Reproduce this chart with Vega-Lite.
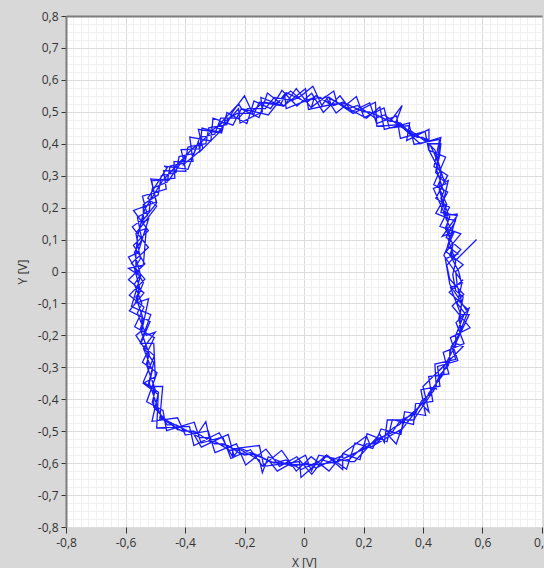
{
  "$schema": "https://vega.github.io/schema/vega-lite/v6.json",
  "width": 476,
  "height": 511,
  "autosize": {"type": "none"},
  "padding": {"left": 66, "top": 16, "right": 2, "bottom": 41},
  "background": "#d8d8d8",
  "config": {"view": {"fill": "white", "stroke": null}, "font": "Open Sans"},
  "data": {"values": [
    {"t":0,"x":0.58,"y":0.10},{"t":1,"x":0.51,"y":0.035},
    {"t":2,"x":0.49,"y":0.05},{"t":3,"x":0.50,"y":0.08},{"t":4,"x":0.48,"y":0.14},{"t":5,"x":0.485,"y":0.16},{"t":6,"x":0.46,"y":0.23},{"t":7,"x":0.47,"y":0.25},{"t":8,"x":0.445,"y":0.32},{"t":9,"x":0.455,"y":0.36},{"t":10,"x":0.46,"y":0.40},{"t":11,"x":0.42,"y":0.40},{"t":12,"x":0.36,"y":0.44},{"t":13,"x":0.33,"y":0.45},{"t":14,"x":0.27,"y":0.49},{"t":15,"x":0.24,"y":0.48},{"t":16,"x":0.18,"y":0.52},{"t":17,"x":0.15,"y":0.51},{"t":18,"x":0.08,"y":0.545},{"t":19,"x":0.06,"y":0.52},{"t":20,"x":0.03,"y":0.58},{"t":21,"x":-0.01,"y":0.55},{"t":22,"x":-0.04,"y":0.535},{"t":23,"x":-0.10,"y":0.545},{"t":24,"x":-0.13,"y":0.51},{"t":25,"x":-0.19,"y":0.51},{"t":26,"x":-0.22,"y":0.48},{"t":27,"x":-0.28,"y":0.48},{"t":28,"x":-0.30,"y":0.43},{"t":29,"x":-0.35,"y":0.42},{"t":30,"x":-0.37,"y":0.37},{"t":31,"x":-0.42,"y":0.36},{"t":32,"x":-0.43,"y":0.31},{"t":33,"x":-0.48,"y":0.30},{"t":34,"x":-0.49,"y":0.24},{"t":35,"x":-0.54,"y":0.21},{"t":36,"x":-0.54,"y":0.15},{"t":37,"x":-0.565,"y":0.12},{"t":38,"x":-0.55,"y":0.04},{"t":39,"x":-0.57,"y":0.01},{"t":40,"x":-0.55,"y":-0.06},{"t":41,"x":-0.565,"y":-0.08},{"t":42,"x":-0.54,"y":-0.15},{"t":43,"x":-0.55,"y":-0.18},{"t":44,"x":-0.52,"y":-0.26},{"t":45,"x":-0.53,"y":-0.29},{"t":46,"x":-0.50,"y":-0.37},{"t":47,"x":-0.51,"y":-0.41},{"t":48,"x":-0.46,"y":-0.48},{"t":49,"x":-0.43,"y":-0.48},{"t":50,"x":-0.35,"y":-0.52},{"t":51,"x":-0.32,"y":-0.52},{"t":52,"x":-0.25,"y":-0.56},{"t":53,"x":-0.22,"y":-0.555},{"t":54,"x":-0.15,"y":-0.59},{"t":55,"x":-0.14,"y":-0.63},{"t":56,"x":-0.12,"y":-0.58},{"t":57,"x":-0.04,"y":-0.61},{"t":58,"x":0.01,"y":-0.60},{"t":59,"x":0.04,"y":-0.615},{"t":60,"x":0.12,"y":-0.58},{"t":61,"x":0.15,"y":-0.59},{"t":62,"x":0.21,"y":-0.54},{"t":63,"x":0.24,"y":-0.54},{"t":64,"x":0.30,"y":-0.49},{"t":65,"x":0.32,"y":-0.48},{"t":66,"x":0.38,"y":-0.43},{"t":67,"x":0.39,"y":-0.42},{"t":68,"x":0.44,"y":-0.36},{"t":69,"x":0.45,"y":-0.34},{"t":70,"x":0.49,"y":-0.28},{"t":71,"x":0.49,"y":-0.25},{"t":72,"x":0.53,"y":-0.18},{"t":73,"x":0.52,"y":-0.15},{"t":74,"x":0.535,"y":-0.08},{"t":75,"x":0.51,"y":-0.06},
    {"t":76,"x":0.50,"y":-0.01},{"t":77,"x":0.51,"y":0.03},{"t":78,"x":0.485,"y":0.10},{"t":79,"x":0.50,"y":0.12},{"t":80,"x":0.47,"y":0.18},{"t":81,"x":0.48,"y":0.21},{"t":82,"x":0.45,"y":0.27},{"t":83,"x":0.465,"y":0.30},{"t":84,"x":0.44,"y":0.38},{"t":85,"x":0.40,"y":0.42},{"t":86,"x":0.38,"y":0.42},{"t":87,"x":0.31,"y":0.47},{"t":88,"x":0.33,"y":0.52},{"t":89,"x":0.29,"y":0.47},{"t":90,"x":0.22,"y":0.50},{"t":91,"x":0.20,"y":0.50},{"t":92,"x":0.13,"y":0.53},{"t":93,"x":0.10,"y":0.52},{"t":94,"x":0.04,"y":0.55},{"t":95,"x":0.01,"y":0.53},{"t":96,"x":-0.06,"y":0.56},{"t":97,"x":-0.08,"y":0.52},{"t":98,"x":-0.15,"y":0.53},{"t":99,"x":-0.17,"y":0.49},{"t":100,"x":-0.20,"y":0.55},{"t":101,"x":-0.24,"y":0.50},{"t":102,"x":-0.26,"y":0.46},{"t":103,"x":-0.32,"y":0.45},{"t":104,"x":-0.33,"y":0.40},{"t":105,"x":-0.39,"y":0.39},{"t":106,"x":-0.40,"y":0.34},{"t":107,"x":-0.45,"y":0.33},{"t":108,"x":-0.46,"y":0.28},{"t":109,"x":-0.51,"y":0.26},{"t":110,"x":-0.52,"y":0.19},{"t":111,"x":-0.56,"y":0.17},{"t":112,"x":-0.545,"y":0.10},{"t":113,"x":-0.57,"y":0.06},{"t":114,"x":-0.55,"y":-0.01},{"t":115,"x":-0.57,"y":-0.04},{"t":116,"x":-0.545,"y":-0.10},{"t":117,"x":-0.56,"y":-0.13},{"t":118,"x":-0.53,"y":-0.20},{"t":119,"x":-0.50,"y":-0.19},{"t":120,"x":-0.54,"y":-0.24},{"t":121,"x":-0.51,"y":-0.31},{"t":122,"x":-0.52,"y":-0.35},{"t":123,"x":-0.49,"y":-0.43},{"t":124,"x":-0.48,"y":-0.46},{"t":125,"x":-0.41,"y":-0.50},{"t":126,"x":-0.37,"y":-0.50},{"t":127,"x":-0.30,"y":-0.54},{"t":128,"x":-0.27,"y":-0.54},{"t":129,"x":-0.20,"y":-0.575},{"t":130,"x":-0.17,"y":-0.57},{"t":131,"x":-0.10,"y":-0.60},{"t":132,"x":-0.06,"y":-0.59},{"t":133,"x":-0.01,"y":-0.62},{"t":134,"x":0.06,"y":-0.59},{"t":135,"x":0.10,"y":-0.60},{"t":136,"x":0.17,"y":-0.57},{"t":137,"x":0.19,"y":-0.56},{"t":138,"x":0.26,"y":-0.52},{"t":139,"x":0.28,"y":-0.51},{"t":140,"x":0.31,"y":-0.54},{"t":141,"x":0.34,"y":-0.46},{"t":142,"x":0.36,"y":-0.45},{"t":143,"x":0.41,"y":-0.40},{"t":144,"x":0.42,"y":-0.38},{"t":145,"x":0.47,"y":-0.32},{"t":146,"x":0.47,"y":-0.30},{"t":147,"x":0.51,"y":-0.23},{"t":148,"x":0.51,"y":-0.20},{"t":149,"x":0.54,"y":-0.13},{"t":150,"x":0.515,"y":-0.10},{"t":151,"x":0.53,"y":-0.04},
    {"t":152,"x":0.52,"y":0.00},{"t":153,"x":0.495,"y":0.045},{"t":154,"x":0.50,"y":0.085},{"t":155,"x":0.475,"y":0.135},{"t":156,"x":0.49,"y":0.17},{"t":157,"x":0.465,"y":0.225},{"t":158,"x":0.455,"y":0.255},{"t":159,"x":0.46,"y":0.315},{"t":160,"x":0.44,"y":0.365},{"t":161,"x":0.415,"y":0.415},{"t":162,"x":0.365,"y":0.425},{"t":163,"x":0.325,"y":0.465},{"t":164,"x":0.275,"y":0.475},{"t":165,"x":0.235,"y":0.495},{"t":166,"x":0.185,"y":0.505},{"t":167,"x":0.145,"y":0.525},{"t":168,"x":0.085,"y":0.525},{"t":169,"x":0.055,"y":0.545},{"t":170,"x":-0.005,"y":0.535},{"t":171,"x":-0.045,"y":0.565},{"t":172,"x":-0.095,"y":0.525},{"t":173,"x":-0.135,"y":0.53},{"t":174,"x":-0.185,"y":0.495},{"t":175,"x":-0.225,"y":0.495},{"t":176,"x":-0.275,"y":0.465},{"t":177,"x":-0.305,"y":0.445},{"t":178,"x":-0.345,"y":0.405},{"t":179,"x":-0.375,"y":0.385},{"t":180,"x":-0.415,"y":0.345},{"t":181,"x":-0.435,"y":0.325},{"t":182,"x":-0.475,"y":0.285},{"t":183,"x":-0.495,"y":0.255},{"t":184,"x":-0.535,"y":0.195},{"t":185,"x":-0.545,"y":0.165},{"t":186,"x":-0.56,"y":0.105},{"t":187,"x":-0.565,"y":0.055},{"t":188,"x":-0.565,"y":-0.005},{"t":189,"x":-0.555,"y":-0.045},{"t":190,"x":-0.56,"y":-0.095},{"t":191,"x":-0.545,"y":-0.135},{"t":192,"x":-0.545,"y":-0.195},{"t":193,"x":-0.525,"y":-0.245},{"t":194,"x":-0.525,"y":-0.305},{"t":195,"x":-0.505,"y":-0.355},{"t":196,"x":-0.505,"y":-0.425},{"t":197,"x":-0.465,"y":-0.465},{"t":198,"x":-0.425,"y":-0.495},{"t":199,"x":-0.355,"y":-0.505},{"t":200,"x":-0.33,"y":-0.47},{"t":201,"x":-0.315,"y":-0.535},{"t":202,"x":-0.255,"y":-0.545},{"t":203,"x":-0.215,"y":-0.57},{"t":204,"x":-0.155,"y":-0.575},{"t":205,"x":-0.115,"y":-0.595},{"t":206,"x":-0.045,"y":-0.605},{"t":207,"x":0.005,"y":-0.605},{"t":208,"x":0.045,"y":-0.605},{"t":209,"x":0.115,"y":-0.595},{"t":210,"x":0.155,"y":-0.575},{"t":211,"x":0.205,"y":-0.555},{"t":212,"x":0.245,"y":-0.525},{"t":213,"x":0.295,"y":-0.505},{"t":214,"x":0.325,"y":-0.465},{"t":215,"x":0.375,"y":-0.445},{"t":216,"x":0.395,"y":-0.405},{"t":217,"x":0.435,"y":-0.375},{"t":218,"x":0.455,"y":-0.325},{"t":219,"x":0.485,"y":-0.295},{"t":220,"x":0.495,"y":-0.235},{"t":221,"x":0.525,"y":-0.195},{"t":222,"x":0.525,"y":-0.135},{"t":223,"x":0.53,"y":-0.095},{"t":224,"x":0.515,"y":-0.045},{"t":225,"x":0.51,"y":0.0},
    {"t":226,"x":0.535,"y":0.021},{"t":227,"x":0.478,"y":0.062},{"t":228,"x":0.527,"y":0.118},{"t":229,"x":0.457,"y":0.141},{"t":230,"x":0.489,"y":0.201},{"t":231,"x":0.443,"y":0.229},{"t":232,"x":0.483,"y":0.301},{"t":233,"x":0.437,"y":0.328},{"t":234,"x":0.456,"y":0.414},{"t":235,"x":0.37,"y":0.398},{"t":236,"x":0.354,"y":0.457},{"t":237,"x":0.287,"y":0.449},{"t":238,"x":0.269,"y":0.512},{"t":239,"x":0.202,"y":0.482},{"t":240,"x":0.176,"y":0.548},{"t":241,"x":0.108,"y":0.496},{"t":242,"x":0.072,"y":0.548},{"t":243,"x":0.024,"y":0.513},{"t":244,"x":-0.026,"y":0.573},{"t":245,"x":-0.067,"y":0.518},{"t":246,"x":-0.123,"y":0.559},{"t":247,"x":-0.151,"y":0.482},{"t":248,"x":-0.211,"y":0.509},{"t":249,"x":-0.239,"y":0.458},{"t":250,"x":-0.306,"y":0.48},{"t":251,"x":-0.313,"y":0.409},{"t":252,"x":-0.384,"y":0.421},{"t":253,"x":-0.373,"y":0.345},{"t":254,"x":-0.437,"y":0.344},{"t":255,"x":-0.434,"y":0.292},{"t":256,"x":-0.512,"y":0.284},{"t":257,"x":-0.497,"y":0.217},{"t":258,"x":-0.573,"y":0.191},{"t":259,"x":-0.523,"y":0.128},{"t":260,"x":-0.573,"y":0.082},{"t":261,"x":-0.535,"y":0.024},{"t":262,"x":-0.59,"y":-0.026},{"t":263,"x":-0.538,"y":-0.067},{"t":264,"x":-0.587,"y":-0.123},{"t":265,"x":-0.517,"y":-0.156},{"t":266,"x":-0.549,"y":-0.226},{"t":267,"x":-0.503,"y":-0.264},{"t":268,"x":-0.54,"y":-0.346},{"t":269,"x":-0.489,"y":-0.378},{"t":270,"x":-0.511,"y":-0.469},{"t":271,"x":-0.425,"y":-0.458},{"t":272,"x":-0.399,"y":-0.512},{"t":273,"x":-0.322,"y":-0.499},{"t":274,"x":-0.299,"y":-0.567},{"t":275,"x":-0.227,"y":-0.54},{"t":276,"x":-0.196,"y":-0.606},{"t":277,"x":-0.128,"y":-0.556},{"t":278,"x":-0.082,"y":-0.61},{"t":279,"x":-0.024,"y":-0.58},{"t":280,"x":0.026,"y":-0.635},{"t":281,"x":0.077,"y":-0.575},{"t":282,"x":0.143,"y":-0.619},{"t":283,"x":0.171,"y":-0.537},{"t":284,"x":0.231,"y":-0.554},{"t":285,"x":0.259,"y":-0.493},{"t":286,"x":0.326,"y":-0.51},{"t":287,"x":0.338,"y":-0.439},{"t":288,"x":0.409,"y":-0.451},{"t":289,"x":0.393,"y":-0.37},{"t":290,"x":0.457,"y":-0.359},{"t":291,"x":0.449,"y":-0.297},{"t":292,"x":0.517,"y":-0.279},{"t":293,"x":0.492,"y":-0.207},{"t":294,"x":0.558,"y":-0.176},{"t":295,"x":0.498,"y":-0.108},{"t":296,"x":0.537,"y":-0.072},{"t":297,"x":0.49,"y":-0.024},
    {"t":298,"x":0.48,"y":0.019},{"t":299,"x":0.527,"y":0.069},{"t":300,"x":0.478,"y":0.107},{"t":301,"x":0.509,"y":0.158},{"t":302,"x":0.443,"y":0.182},{"t":303,"x":0.483,"y":0.249},{"t":304,"x":0.436,"y":0.272},{"t":305,"x":0.476,"y":0.358},{"t":306,"x":0.419,"y":0.38},{"t":307,"x":0.407,"y":0.439},{"t":308,"x":0.324,"y":0.417},{"t":309,"x":0.311,"y":0.487},{"t":310,"x":0.244,"y":0.463},{"t":311,"x":0.221,"y":0.528},{"t":312,"x":0.161,"y":0.501},{"t":313,"x":0.121,"y":0.55},{"t":314,"x":0.065,"y":0.498},{"t":315,"x":0.026,"y":0.558},{"t":316,"x":-0.024,"y":0.518},{"t":317,"x":-0.074,"y":0.567},{"t":318,"x":-0.112,"y":0.51},{"t":319,"x":-0.168,"y":0.534},{"t":320,"x":-0.192,"y":0.463},{"t":321,"x":-0.259,"y":0.498},{"t":322,"x":-0.277,"y":0.434},{"t":323,"x":-0.343,"y":0.449},{"t":324,"x":-0.35,"y":0.384},{"t":325,"x":-0.413,"y":0.382},{"t":326,"x":-0.397,"y":0.314},{"t":327,"x":-0.472,"y":0.316},{"t":328,"x":-0.463,"y":0.258},{"t":329,"x":-0.543,"y":0.236},{"t":330,"x":-0.526,"y":0.175},{"t":331,"x":-0.577,"y":0.14},{"t":332,"x":-0.523,"y":0.075},{"t":333,"x":-0.58,"y":0.026},{"t":334,"x":-0.535,"y":-0.024},{"t":335,"x":-0.587,"y":-0.074},{"t":336,"x":-0.538,"y":-0.112},{"t":337,"x":-0.569,"y":-0.173},{"t":338,"x":-0.503,"y":-0.207},{"t":339,"x":-0.543,"y":-0.284},{"t":340,"x":-0.494,"y":-0.317},{"t":341,"x":-0.529,"y":-0.408},{"t":342,"x":-0.474,"y":-0.435},{"t":343,"x":-0.462,"y":-0.498},{"t":344,"x":-0.369,"y":-0.472},{"t":345,"x":-0.346,"y":-0.537},{"t":346,"x":-0.273,"y":-0.518},{"t":347,"x":-0.246,"y":-0.585},{"t":348,"x":-0.18,"y":-0.558},{"t":349,"x":-0.14,"y":-0.609},{"t":350,"x":-0.075,"y":-0.56},{"t":351,"x":-0.026,"y":-0.625},{"t":352,"x":0.024,"y":-0.58},{"t":353,"x":0.084,"y":-0.625},{"t":354,"x":0.132,"y":-0.57},{"t":355,"x":0.188,"y":-0.589},{"t":356,"x":0.212,"y":-0.508},{"t":357,"x":0.279,"y":-0.533},{"t":358,"x":0.297,"y":-0.464},{"t":359,"x":0.368,"y":-0.479},{"t":360,"x":0.375,"y":-0.414},{"t":361,"x":0.433,"y":-0.407},{"t":362,"x":0.419,"y":-0.329},{"t":363,"x":0.487,"y":-0.321},{"t":364,"x":0.468,"y":-0.253},{"t":365,"x":0.538,"y":-0.226},{"t":366,"x":0.511,"y":-0.16},{"t":367,"x":0.552,"y":-0.12},{"t":368,"x":0.488,"y":-0.065},{"t":369,"x":0.535,"y":-0.026},
    {"t":370,"x":0.53,"y":-0.03},{"t":371,"x":0.47,"y":0.05},{"t":372,"x":0.505,"y":0.125},{"t":373,"x":0.465,"y":0.11},{"t":374,"x":0.515,"y":0.175},{"t":375,"x":0.46,"y":0.185},{"t":376,"x":0.485,"y":0.285},{"t":377,"x":0.475,"y":0.28},{"t":378,"x":0.42,"y":0.38},{"t":379,"x":0.42,"y":0.445},{"t":380,"x":0.345,"y":0.41},{"t":381,"x":0.355,"y":0.465},{"t":382,"x":0.27,"y":0.445},{"t":383,"x":0.255,"y":0.515},{"t":384,"x":0.21,"y":0.48},{"t":385,"x":0.11,"y":0.53},{"t":386,"x":0.10,"y":0.565},{"t":387,"x":0.025,"y":0.515},{"t":388,"x":0.035,"y":0.545},{"t":389,"x":-0.06,"y":0.51},{"t":390,"x":-0.065,"y":0.555},{"t":391,"x":-0.12,"y":0.49},{"t":392,"x":-0.21,"y":0.51},{"t":393,"x":-0.22,"y":0.525},{"t":394,"x":-0.295,"y":0.45},{"t":395,"x":-0.275,"y":0.445},{"t":396,"x":-0.35,"y":0.375},{"t":397,"x":-0.355,"y":0.405},{"t":398,"x":-0.39,"y":0.32},{"t":399,"x":-0.47,"y":0.33},{"t":400,"x":-0.46,"y":0.325},{"t":401,"x":-0.525,"y":0.23},{"t":402,"x":-0.495,"y":0.205},{"t":403,"x":-0.56,"y":0.125},{"t":404,"x":-0.53,"y":0.135},{"t":405,"x":-0.54,"y":0.02},{"t":406,"x":-0.59,"y":0.01},{"t":407,"x":-0.55,"y":-0.015},{"t":408,"x":-0.58,"y":-0.11},{"t":409,"x":-0.515,"y":-0.135},{"t":410,"x":-0.55,"y":-0.225},{"t":411,"x":-0.505,"y":-0.225},{"t":412,"x":-0.50,"y":-0.33},{"t":413,"x":-0.54,"y":-0.35},{"t":414,"x":-0.49,"y":-0.385},{"t":415,"x":-0.495,"y":-0.49},{"t":416,"x":-0.385,"y":-0.485},{"t":417,"x":-0.37,"y":-0.545},{"t":418,"x":-0.285,"y":-0.505},{"t":419,"x":-0.24,"y":-0.58},{"t":420,"x":-0.24,"y":-0.555},{"t":421,"x":-0.15,"y":-0.545},{"t":422,"x":-0.135,"y":-0.61},{"t":423,"x":-0.015,"y":-0.595},{"t":424,"x":-0.01,"y":-0.645},{"t":425,"x":0.075,"y":-0.575},{"t":426,"x":0.13,"y":-0.62},{"t":427,"x":0.13,"y":-0.57},{"t":428,"x":0.21,"y":-0.515},{"t":429,"x":0.225,"y":-0.55},{"t":430,"x":0.325,"y":-0.495},{"t":431,"x":0.32,"y":-0.505},{"t":432,"x":0.395,"y":-0.415},{"t":433,"x":0.42,"y":-0.44},{"t":434,"x":0.40,"y":-0.36},{"t":435,"x":0.47,"y":-0.295},{"t":436,"x":0.455,"y":-0.31},{"t":437,"x":0.535,"y":-0.235},{"t":438,"x":0.51,"y":-0.225},{"t":439,"x":0.555,"y":-0.115},{"t":440,"x":0.545,"y":-0.12},{"t":441,"x":0.49,"y":-0.04},
    {"t":442,"x":0.475,"y":0.04},{"t":443,"x":0.5175,"y":0.055},{"t":444,"x":0.4825,"y":0.08},{"t":445,"x":0.515,"y":0.18},{"t":446,"x":0.475,"y":0.175},{"t":447,"x":0.435,"y":0.26},{"t":448,"x":0.4775,"y":0.275},{"t":449,"x":0.4425,"y":0.31},{"t":450,"x":0.46,"y":0.42},{"t":451,"x":0.39,"y":0.40},{"t":452,"x":0.315,"y":0.465},{"t":453,"x":0.32,"y":0.46},{"t":454,"x":0.245,"y":0.455},{"t":455,"x":0.24,"y":0.53},{"t":456,"x":0.165,"y":0.495},{"t":457,"x":0.085,"y":0.545},{"t":458,"x":0.09,"y":0.5225},{"t":459,"x":0.015,"y":0.5075},{"t":460,"x":0.005,"y":0.5725},{"t":461,"x":-0.07,"y":0.5175},{"t":462,"x":-0.145,"y":0.545},{"t":463,"x":-0.14,"y":0.50},{"t":464,"x":-0.215,"y":0.465},{"t":465,"x":-0.22,"y":0.51},{"t":466,"x":-0.29,"y":0.435},{"t":467,"x":-0.355,"y":0.445},{"t":468,"x":-0.34,"y":0.385},{"t":469,"x":-0.405,"y":0.335},{"t":470,"x":-0.395,"y":0.365},{"t":471,"x":-0.455,"y":0.285},{"t":472,"x":-0.515,"y":0.29},{"t":473,"x":-0.495,"y":0.215},{"t":474,"x":-0.55,"y":0.15},{"t":475,"x":-0.5225,"y":0.165},{"t":476,"x":-0.5575,"y":0.06},{"t":477,"x":-0.59,"y":0.045},{"t":478,"x":-0.54,"y":-0.035},{"t":479,"x":-0.5675,"y":-0.10},{"t":480,"x":-0.5225,"y":-0.085},{"t":481,"x":-0.545,"y":-0.185},{"t":482,"x":-0.565,"y":-0.20},{"t":483,"x":-0.505,"y":-0.285},{"t":484,"x":-0.525,"y":-0.36},{"t":485,"x":-0.475,"y":-0.36},{"t":486,"x":-0.485,"y":-0.465},{"t":487,"x":-0.475,"y":-0.46},{"t":488,"x":-0.37,"y":-0.51},{"t":489,"x":-0.345,"y":-0.55},{"t":490,"x":-0.255,"y":-0.51},{"t":491,"x":-0.235,"y":-0.5775},{"t":492,"x":-0.215,"y":-0.5525},{"t":493,"x":-0.115,"y":-0.595},{"t":494,"x":-0.09,"y":-0.625},{"t":495,"x":0.005,"y":-0.575},{"t":496,"x":0.025,"y":-0.625},{"t":497,"x":0.05,"y":-0.575},{"t":498,"x":0.155,"y":-0.595},{"t":499,"x":0.17,"y":-0.595},{"t":500,"x":0.255,"y":-0.51},{"t":501,"x":0.27,"y":-0.535},{"t":502,"x":0.28,"y":-0.465},{"t":503,"x":0.37,"y":-0.465},{"t":504,"x":0.375,"y":-0.455},{"t":505,"x":0.445,"y":-0.36},{"t":506,"x":0.445,"y":-0.37},{"t":507,"x":0.44,"y":-0.29},{"t":508,"x":0.51,"y":-0.275},{"t":509,"x":0.50,"y":-0.245},{"t":510,"x":0.555,"y":-0.135},{"t":511,"x":0.5275,"y":-0.135},{"t":512,"x":0.4925,"y":-0.05},{"t":513,"x":0.535,"y":-0.035}
  ]},
  "mark": {"type": "line", "color": "#1a1aff", "strokeWidth": 1.3},
  "encoding": {
    "x": {
      "field": "x", "type": "quantitative",
      "scale": {"domain": [-0.8, 0.8], "nice": false, "zero": false},
      "axis": {
        "title": "X [V]",
        "values": [-0.8,-0.775,-0.75,-0.725,-0.7,-0.675,-0.65,-0.625,-0.6,-0.575,-0.55,-0.525,-0.5,-0.475,-0.45,-0.425,-0.4,-0.375,-0.35,-0.325,-0.3,-0.275,-0.25,-0.225,-0.2,-0.175,-0.15,-0.125,-0.1,-0.075,-0.05,-0.025,0,0.025,0.05,0.075,0.1,0.125,0.15,0.175,0.2,0.225,0.25,0.275,0.3,0.325,0.35,0.375,0.4,0.425,0.45,0.475,0.5,0.525,0.55,0.575,0.6,0.625,0.65,0.675,0.7,0.725,0.75,0.775,0.8],
        "grid": true,
        "gridColor": {"condition": {"test": "abs(datum.value*5-round(datum.value*5))<0.001", "value": "#dcdcdc"}, "value": "#f0f0f0"},
        "gridWidth": 1,
        "domain": false,
        "ticks": true,
        "tickColor": "#333333",
        "tickOpacity": {"condition": {"test": "abs(datum.value*5-round(datum.value*5))<0.001", "value": 1}, "value": 0},
        "tickSize": 6,
        "labelExpr": "abs(datum.value*5-round(datum.value*5))<0.001 ? (abs(datum.value)<0.001 ? '0' : (datum.value<0 ? '-' : '') + replace(format(abs(datum.value), '.1f'), '.', ',')) : ''",
        "labelFont": "Open Sans",
        "labelFontSize": 12,
        "labelColor": "#333333",
        "labelPadding": 4,
        "labelOverlap": false,
        "labelFlush": false,
        "labelBound": false,
        "titleFont": "Open Sans",
        "titleFontSize": 12,
        "titleFontWeight": "normal",
        "titleColor": "#333333",
        "titlePadding": 9
      }
    },
    "y": {
      "field": "y", "type": "quantitative",
      "scale": {"domain": [-0.8, 0.8], "nice": false, "zero": false},
      "axis": {
        "title": "Y [V]",
        "values": [-0.8,-0.775,-0.75,-0.725,-0.7,-0.675,-0.65,-0.625,-0.6,-0.575,-0.55,-0.525,-0.5,-0.475,-0.45,-0.425,-0.4,-0.375,-0.35,-0.325,-0.3,-0.275,-0.25,-0.225,-0.2,-0.175,-0.15,-0.125,-0.1,-0.075,-0.05,-0.025,0,0.025,0.05,0.075,0.1,0.125,0.15,0.175,0.2,0.225,0.25,0.275,0.3,0.325,0.35,0.375,0.4,0.425,0.45,0.475,0.5,0.525,0.55,0.575,0.6,0.625,0.65,0.675,0.7,0.725,0.75,0.775,0.8],
        "grid": true,
        "gridColor": {"condition": [{"test": "datum.value>0.79", "value": "#7d7d7d"}, {"test": "abs(datum.value*10-round(datum.value*10))<0.001", "value": "#dcdcdc"}], "value": "#f0f0f0"},
        "gridWidth": {"condition": {"test": "datum.value>0.79", "value": 2}, "value": 1},
        "domain": true,
        "domainColor": "#7d7d7d",
        "domainWidth": 2,
        "ticks": true,
        "tickColor": "#333333",
        "tickOpacity": {"condition": {"test": "abs(datum.value*10-round(datum.value*10))<0.001", "value": 1}, "value": 0},
        "tickSize": 5,
        "labelExpr": "abs(datum.value*10-round(datum.value*10))<0.001 ? (abs(datum.value)<0.001 ? '0' : (datum.value<0 ? '-' : '') + replace(format(abs(datum.value), '.1f'), '.', ',')) : ''",
        "labelFont": "Open Sans",
        "labelFontSize": 12,
        "labelColor": "#333333",
        "labelPadding": 3,
        "labelOverlap": false,
        "labelFlush": false,
        "labelBound": false,
        "titleFont": "Open Sans",
        "titleFontSize": 12,
        "titleFontWeight": "normal",
        "titleColor": "#333333",
        "titlePadding": 8
      }
    },
    "order": {"field": "t", "type": "quantitative"}
  }
}
